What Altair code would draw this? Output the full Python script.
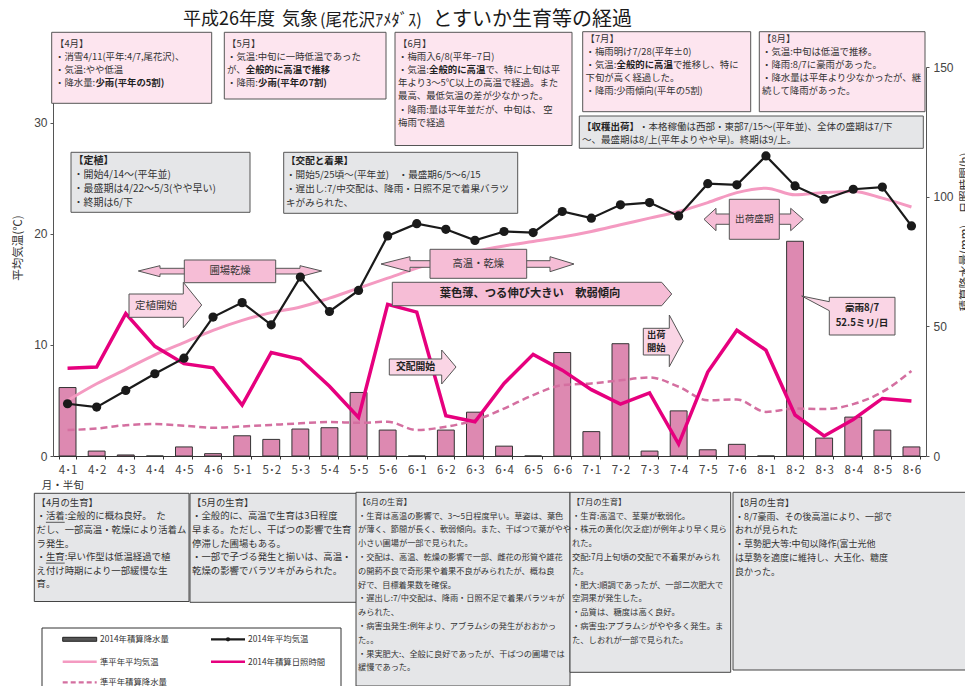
import altair as alt
import pandas as pd

# ---------------- data ----------------
cats = ["4･1", "4･2", "4･3", "4･4", "4･5", "4･6", "5･1", "5･2", "5･3", "5･4", "5･5", "5･6",
        "6･1", "6･2", "6･3", "6･4", "6･5", "6･6", "7･1", "7･2", "7･3", "7･4", "7･5", "7･6",
        "8･1", "8･2", "8･3", "8･4", "8･5", "8･6"]
precip_2014 = [26.4, 1.9, 0.4, 0.0, 3.5, 0.9, 7.8, 6.4, 10.4, 10.9, 24.5, 10.0,
               0.0, 10.0, 16.9, 3.8, 0.0, 39.9, 9.4, 43.3, 1.9, 17.4, 2.4, 4.5,
               0.0, 82.8, 6.9, 15.0, 10.0, 3.5]
temp_2014 = [4.7, 4.4, 5.9, 7.4, 8.8, 12.5, 13.8, 11.8, 16.1, 13.0, 14.9, 19.8,
             20.9, 20.4, 19.4, 20.2, 20.1, 22.0, 21.4, 22.6, 22.8, 21.6, 24.5, 24.4,
             27.0, 24.3, 23.1, 24.0, 24.2, 20.7]
temp_normal = [5.0, 6.5, 7.8, 9.1, 10.2, 11.3, 12.2, 12.9, 13.4, 14.2, 15.1, 16.0,
               16.9, 17.7, 18.4, 18.9, 19.3, 19.7, 20.2, 20.8, 21.4, 22.0, 22.8, 23.7,
               24.1, 23.5, 23.7, 23.8, 23.2, 22.4]
sun_2014 = [33.8, 34.3, 54.9, 42.3, 35.6, 34.0, 19.6, 39.9, 37.3, 26.9, 14.9, 58.5,
            55.5, 15.5, 13.2, 28.0, 39.2, 33.1, 25.6, 20.0, 24.3, 4.6, 32.4, 48.5,
            40.8, 15.8, 7.7, 14.1, 22.2, 21.2]
precip_normal = [10.0, 10.6, 11.9, 12.3, 11.7, 10.9, 11.4, 12.0, 12.6, 13.1, 12.8, 13.2,
                 10.0, 11.3, 13.8, 18.3, 23.5, 27.3, 28.0, 29.2, 30.3, 26.7, 21.5, 21.8,
                 17.0, 18.3, 18.1, 20.0, 24.7, 32.8]

df = pd.DataFrame({"cat": cats, "precip": precip_2014, "temp": temp_2014,
                   "temp_norm": temp_normal, "sun": sun_2014, "precip_norm": precip_normal})

# ---------------- layout helpers ----------------
FONT = "Noto Sans CJK JP"
X0, Y0 = 53, 67          # page position of the plot origin
PW, PH = 873, 389        # plot area

PINK_BOX = "#fde5ef"
GRAY_BOX = "#e5e6e8"
ARROW = "#f6bdd6"
ARROW_L = "#fad5e5"


def tw(s, fs):
    w = 0.0
    for ch in s:
        o = ord(ch)
        if ch in "()[],.:;'/|!":
            w += 0.3
        elif ch == " ":
            w += 0.25
        elif o < 128:
            w += 0.56
        elif 0xFF61 <= o <= 0xFF9F:
            w += 0.5
        else:
            w += 1.0
    return w * fs


TL, TLB, TC, TCB, TTITLE, TTITLE_R, TROT = [], [], [], [], [], [], []
BOX, ARW, LINES = [], [], []


def add_lines(x, y0, dy, lines, fs):
    for i, line in enumerate(lines):
        y = y0 + i * dy
        segs = line if isinstance(line, list) else [(line, False)]
        cx = x
        for s, b in segs:
            (TLB if b else TL).append(dict(x=cx - X0, y=y - Y0, t=s, fs=fs))
            cx += tw(s, fs)


def box(x1, y1, x2, y2, fill, stroke="#555"):
    BOX.append(dict(x=x1 - X0, x2=x2 - X0, y=y1 - Y0, y2=y2 - Y0, f=fill, s=stroke))


def poly(pts, fill):
    xs = [p[0] for p in pts]
    ys = [p[1] for p in pts]
    cx = (min(xs) + max(xs)) / 2
    cy = (min(ys) + max(ys)) / 2
    s = max(max(xs) - min(xs), max(ys) - min(ys)) / 2
    path = "M" + " L".join(f"{(px - cx) / s:.4f},{(py - cy) / s:.4f}" for px, py in pts) + " Z"
    ARW.append(dict(x=cx - X0, y=cy - Y0, p=path, sz=(2 * s) ** 2, f=fill))


def ctext(x, y, t, fs, bold=False):
    (TCB if bold else TC).append(dict(x=x - X0, y=y - Y0, t=t, fs=fs))


def hline(x1, x2, y, c, w):
    LINES.append(dict(x=x1 - X0, x2=x2 - X0, y=y - Y0, c=c, w=w))


F, T = False, True

# ---------------- title ----------------
TTITLE.append(dict(x=183 - X0, y=19.5 - Y0, t="平成26年度", fs=18))
TTITLE.append(dict(x=282 - X0, y=19.5 - Y0, t="気象", fs=18))
TTITLE.append(dict(x=320 - X0, y=21 - Y0, t="(尾花沢ｱﾒﾀﾞｽ)", fs=16.5))
TTITLE_R.append(dict(x=632 - X0, y=19.5 - Y0, t="とすいか生育等の経過", fs=20))

# ---------------- top boxes ----------------
box(51.7, 32.3, 211.7, 103.3, PINK_BOX)
add_lines(55, 43.5, 13.1, ["【4月】", "・消雪4/11(平年:4/7,尾花沢)、", "・気温:やや低温",
                           [("・降水量:", F), ("少雨(平年の5割)", T)]], 9.4)
box(224.3, 32.3, 386, 99, PINK_BOX)
add_lines(227, 43.5, 13.1, ["【5月】", "・気温:中旬に一時低温であった",
                            [("が、", F), ("全般的に高温で推移", T)],
                            [("・降雨:", F), ("少雨(平年の7割)", T)]], 9.4)
box(395, 32.3, 572, 145.5, PINK_BOX)
add_lines(398, 43.5, 13.2, ["【6月】", "・梅雨入6/8(平年−7日)",
                            [("・気温:", F), ("全般的に高温", T), ("で、特に上旬は平", F)],
                            "年より3～5℃以上の高温で経過。また",
                            "最高、最低気温の差が少なかった。",
                            "・降雨:量は平年並だが、中旬は、 空", "梅雨で経過"], 9.4)
box(582.7, 31.7, 750.7, 111.7, PINK_BOX)
add_lines(585.5, 38.5, 13.1, ["【7月】", "・梅雨明け7/28(平年±0)",
                              [("・気温:", F), ("全般的に高温", T), ("で推移し、特に", F)],
                              "下旬が高く経過した。", "・降雨:少雨傾向(平年の5割)"], 9.4)
box(759.3, 31.7, 925, 111.7, PINK_BOX)
add_lines(762, 38.5, 13.1, ["【8月】", "・気温:中旬は低温で推移。", "・降雨:8/7に豪雨があった。",
                            "・降水量は平年より少なかったが、継", "続して降雨があった。"], 9.4)
box(579.3, 116, 923.3, 148.3, GRAY_BOX)
add_lines(582, 127, 12.6, [[("【収穫出荷】", T), (" ・本格稼働は西部・東部7/15～(平年並)、全体の盛期は7/下", F)],
                           "～、最盛期は8/上(平年よりやや早)。終期は9/上。"], 9.5)
box(71, 152.3, 250, 212.3, GRAY_BOX)
add_lines(73.5, 161, 13.9, [[("【定植】", T)], "・開始4/14～(平年並)",
                            "・最盛期は4/22～5/3(やや早い)", "・終期は6/下"], 10)
box(283.7, 152.3, 517.7, 213.3, GRAY_BOX)
add_lines(286, 161, 13.9, [[("【交配と着果】", T)], "・開始5/25頃～(平年並)　・最盛期6/5～6/15",
                           "・遅出し:7/中交配は、降雨・日照不足で着果バラツ", "キがみられた、"], 9.6)

# ---------------- bottom boxes ----------------
box(34.3, 493.3, 189, 601.5, GRAY_BOX, "#444")
add_lines(36.5, 502.7, 13.6, ["【4月の生育】", "・活着:全般的に概ね良好。　た", "だし、一部高温・乾燥により活着ム",
                              "ラ発生。", "・生育:早い作型は低温経過で植", "え付け時期により一部緩慢な生", "育。"], 9.4)
hline(36.5 + 9.4, 36.5 + 3 * 9.4, 502.7 + 13.6 + 6, "#333", 0.8)
hline(36.5 + 9.4, 36.5 + 3 * 9.4, 502.7 + 4 * 13.6 + 6, "#333", 0.8)
box(190, 493.3, 357, 602.3, GRAY_BOX, "#444")
add_lines(192, 502.7, 13.6, ["【5月の生育】", "・全般的に、高温で生育は3日程度", "早まる。ただし、干ばつの影響で生育",
                             "停滞した圃場もある。", "・一部で子づる発生と揃いは、高温・",
                             "乾燥の影響でバラツキがみられた。"], 9.4)
box(356, 492.3, 570, 686, GRAY_BOX, "#444")
add_lines(358, 502.7, 13.8, ["【6月の生育】", "・生育は高温の影響で、3～5日程度早い。草姿は、葉色",
                             "が薄く、節間が長く、軟弱傾向。また、干ばつで葉がやや",
                             "小さい圃場が一部で見られた。",
                             "・交配は、高温、乾燥の影響で一部、雌花の形質や雄花",
                             "の開葯不良で奇形果や着果不良がみられたが、概ね良",
                             "好で、目標着果数を確保。",
                             "・遅出し:7/中交配は、降雨・日照不足で着果バラツキが",
                             "みられた、",
                             "・病害虫発生:例年より、アブラムシの発生がおおかっ",
                             "た。。",
                             "・果実肥大:、全般に良好であったが、干ばつの圃場では",
                             "緩慢であった。"], 8.2)
box(570, 492.3, 730.7, 672.3, GRAY_BOX, "#444")
add_lines(572, 502.7, 13.8, ["【7月の生育】", "・生育:高温で、茎葉が軟弱化。",
                             "・株元の黄化(欠乏症)が例年より早く見ら", "れた。",
                             "交配:7月上旬頃の交配で不着果がみられ", "た。",
                             "・肥大:順調であったが、一部二次肥大で", "空洞果が発生した。",
                             "・品質は、糖度は高く良好。",
                             "・病害虫:アブラムシがやや多く発生。ま",
                             "た、しおれが一部で見られた。"], 8.3)
box(733, 492.3, 1000, 670, GRAY_BOX, "#444")
add_lines(735, 502.7, 13.8, ["【8月の生育】", "・8/7豪雨、その後高温により、一部で", "おれが見られた",
                             "・草勢肥大等:中旬以降作(富士光他", "は草勢を適度に維持し、大玉化、糖度",
                             "良かった。"], 9.0)

# ---------------- arrows / callouts ----------------
poly([(138.3, 271), (160, 265.7), (160, 268.3), (300, 268.3), (300, 265.7), (321.7, 271),
      (300, 276.7), (300, 274), (160, 274), (160, 276.7)], ARROW)
poly([(184.3, 260), (275.7, 260), (275.7, 282.7), (184.3, 282.7)], ARROW)
ctext(230, 271.3, "圃場乾燥", 10.3)
poly([(129, 294), (183.3, 294), (183.3, 282.3), (201.7, 305), (183.3, 327.7), (183.3, 317.3),
      (129, 317.3)], ARROW_L)
ctext(156, 305.5, "定植開始", 10.5)
poly([(381, 264), (410, 256.7), (410, 260.7), (550, 260.7), (550, 256.7), (574, 264),
      (550, 271.7), (550, 267.3), (410, 267.3), (410, 271.7)], ARROW)
poly([(430, 249.3), (526.7, 249.3), (526.7, 278.3), (430, 278.3)], ARROW)
ctext(478.3, 264, "高温・乾燥", 10.3)
poly([(392.3, 282.3), (661.7, 282.3), (671.7, 294), (661.7, 305.7), (392.3, 305.7)], ARROW)
ctext(530, 294, "葉色薄、つる伸び大きい　軟弱傾向", 11.3, True)
poly([(389.3, 359), (441.7, 359), (441.7, 350), (456, 367), (441.7, 384), (441.7, 375),
      (389.3, 375)], ARROW_L)
ctext(415.5, 367, "交配開始", 9.8, True)
poly([(643.3, 328.3), (669.3, 328.3), (669.3, 315), (683.3, 341), (669.3, 366.7), (669.3, 355),
      (643.3, 355)], ARROW_L)
ctext(656.3, 335, "出荷", 9.3, True)
ctext(656.3, 347.5, "開始", 9.3, True)
poly([(704, 219.3), (716, 208.3), (716, 214), (790.7, 214), (790.7, 208.3), (803.3, 219.3),
      (790.7, 230.7), (790.7, 224.3), (716, 224.3), (716, 230.7)], ARROW)
poly([(729.3, 199.3), (779.3, 199.3), (779.3, 239.3), (729.3, 239.3)], ARROW)
ctext(754.3, 219.3, "出荷盛期", 9.6)
poly([(801.7, 296), (829.3, 301.7), (829.3, 297.3), (895, 297.3), (895, 335), (829.3, 335),
      (829.3, 310.7)], ARROW_L)
ctext(862, 307.5, "豪雨8/7", 9.6, True)
ctext(862, 323.3, "52.5ミリ/日", 9.6, True)

# ---------------- axis titles / misc text ----------------
TROT.append(dict(x=19 - X0, y=248 - Y0, t="平均気温(℃)", fs=11.5))
TROT.append(dict(x=966 - X0, y=232 - Y0, t="積算降水量(mm)、日照時間(h)", fs=11.5))
TL.append(dict(x=41.7 - X0, y=486 - Y0, t="月・半旬", fs=10.5))

# ---------------- legend ----------------
box(42, 628, 341, 693, "#ffffff", "#333")
box(62.7, 637.3, 96.7, 641.3, "#555555", "#222")
hline(211, 245, 639.3, "#1a1a1a", 2.2)
hline(62.7, 96.7, 661.7, "#f49ac1", 2.5)
hline(211, 245, 661.7, "#e6007e", 2.5)
for (tx, ty, tt) in [(100, 639.3, "2014年積算降水量"), (248, 639.3, "2014年平均気温"),
                     (100, 661.7, "準平年平均気温"), (248, 661.7, "2014年積算日照時間"),
                     (100, 682.3, "準平年積算降水量")]:
    TL.append(dict(x=tx - X0, y=ty - Y0, t=tt, fs=8.4))

# ---------------- chart ----------------
xenc = alt.X("cat:N", sort=cats, title=None,
             scale=alt.Scale(paddingInner=0.42, paddingOuter=0.21),
             axis=alt.Axis(labelAngle=0, labelFont=FONT, labelFontSize=11.5, labelColor="#444",
                           tickBand="extent", tickSize=3, tickColor="#333", domainColor="#333",
                           labelPadding=5))
Y_RIGHT = alt.Scale(domain=[0, 150])
Y_LEFT = alt.Scale(domain=[0, 35])

base = alt.Chart(df)
bars = base.mark_bar(fill="#dd89b1", stroke="#333", strokeWidth=1).encode(
    x=xenc,
    y=alt.Y("precip:Q", scale=Y_RIGHT, title=None,
            axis=alt.Axis(orient="right", values=[0, 50, 100, 150], labelFont="Liberation Sans",
                          labelFontSize=12, labelColor="#444", tickSize=3, tickColor="#555",
                          domainColor="#555", labelPadding=4, grid=False)))
dashed = base.mark_line(color="#d46fa0", strokeWidth=2.5, strokeDash=[7, 4],
                        interpolate="monotone").encode(
    x=xenc, y=alt.Y("precip_norm:Q", scale=Y_RIGHT, axis=None))
pinkline = base.mark_line(color="#f49ac1", strokeWidth=3, interpolate="monotone").encode(
    x=xenc, y=alt.Y("temp_norm:Q", scale=Y_LEFT, axis=None))
sunline = base.mark_line(color="#e6007e", strokeWidth=3.5).encode(
    x=xenc, y=alt.Y("sun:Q", scale=Y_RIGHT, axis=None))
templine = base.mark_line(color="#1a1a1a", strokeWidth=2.2).encode(
    x=xenc,
    y=alt.Y("temp:Q", scale=Y_LEFT, title=None,
            axis=alt.Axis(orient="left", values=[0, 10, 20, 30], labelFont="Liberation Sans",
                          labelFontSize=12, labelColor="#444", tickSize=3, tickColor="#555",
                          domainColor="#555", labelPadding=3, grid=False)))
temppts = base.mark_circle(size=85, color="#1a1a1a", opacity=1).encode(
    x=xenc, y=alt.Y("temp:Q", scale=Y_LEFT, axis=None))

PX = lambda f: alt.X(f, scale=None)
PY = lambda f: alt.Y(f, scale=None)

boxes = alt.Chart(pd.DataFrame(BOX)).mark_rect(strokeWidth=1).encode(
    x=PX("x:Q"), x2="x2:Q", y=PY("y:Q"), y2="y2:Q",
    fill=alt.Fill("f:N", scale=None), stroke=alt.Stroke("s:N", scale=None))
arrows = alt.Chart(pd.DataFrame(ARW)).mark_point(filled=True, opacity=1, stroke="#555",
                                                 strokeWidth=1).encode(
    x=PX("x:Q"), y=PY("y:Q"), shape=alt.Shape("p:N", scale=None),
    size=alt.Size("sz:Q", scale=None), fill=alt.Fill("f:N", scale=None))
rules = alt.Chart(pd.DataFrame(LINES)).mark_rule().encode(
    x=PX("x:Q"), x2="x2:Q", y=PY("y:Q"),
    color=alt.Color("c:N", scale=None), size=alt.Size("w:Q", scale=None))
one = pd.DataFrame({"d": [0]})
dash_leg = alt.Chart(one).mark_rule(color="#d46fa0", strokeWidth=2.3, strokeDash=[5, 3]).encode(
    x=alt.value(62.7 - X0), x2=alt.value(96.7 - X0), y=alt.value(682.3 - Y0))
dot_leg = alt.Chart(one).mark_circle(size=18, color="#1a1a1a", opacity=1).encode(
    x=alt.value(228 - X0), y=alt.value(639.3 - Y0))


def text_layer(rows, align, bold=False, color="#333", angle=None):
    kw = dict(align=align, baseline="middle", font=FONT, color=color)
    if bold:
        kw["fontWeight"] = "bold"
    if angle is not None:
        kw["angle"] = angle
    return alt.Chart(pd.DataFrame(rows)).mark_text(**kw).encode(
        x=PX("x:Q"), y=PY("y:Q"), text="t:N", size=alt.Size("fs:Q", scale=None))


layers = [bars, dashed, pinkline, sunline, boxes, arrows, rules, dash_leg, dot_leg,
          text_layer(TL, "left"), text_layer(TLB, "left", True, "#222"),
          text_layer(TC, "center"), text_layer(TCB, "center", True, "#222"),
          text_layer(TTITLE, "left", False, "#1a1a1a"),
          text_layer(TTITLE_R, "right", False, "#1a1a1a"),
          text_layer(TROT, "center", False, "#333", 270),
          templine, temppts]

chart = alt.layer(*layers).resolve_scale(y="independent").properties(
    width=PW, height=PH,
    autosize=alt.AutoSizeParams(type="none"),
    padding={"left": 45, "top": 59, "right": 39, "bottom": 230},
).configure_view(stroke=None)

chart.save("out.html", embed_options={"renderer": "svg", "actions": False})
